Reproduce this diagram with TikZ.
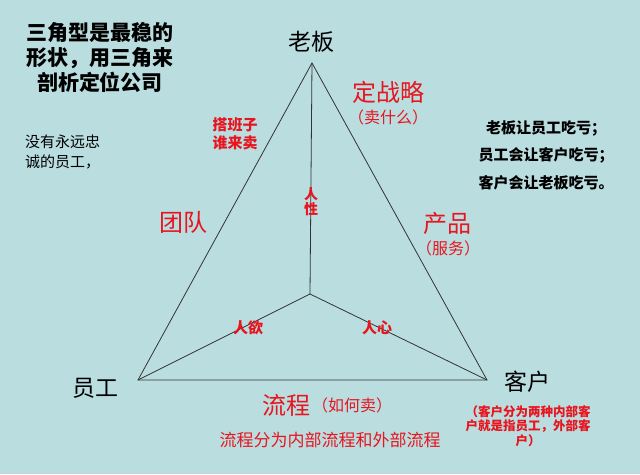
\documentclass[tikz,border=0pt]{standalone}
\usepackage{fontspec}
\newfontfamily\cjk{Noto Sans CJK SC}
\definecolor{bgblue}{RGB}{186,221,224}
\definecolor{lblred}{RGB}{232,20,30}
\tikzset{
  lbl/.style={inner sep=0pt, align=center, font=\cjk},
  redlbl/.style={lbl, text=lblred},
  edge/.style={black!80, line width=0.8pt}
}
\newcommand{\fs}[2]{\fontsize{#1}{#2}\selectfont}

\begin{document}
\begin{tikzpicture}[x=1pt, y=-1pt]
  % background
  \fill[bgblue] (0,0) rectangle (640,474);
  \useasboundingbox (0,0) rectangle (640,474);
  % triangle corners and centre
  \coordinate (boss) at (312,63);
  \coordinate (staff) at (138,380);
  \coordinate (client) at (487,380);
  \coordinate (mid) at (310,294);
  \draw[edge] (boss) -- (staff) -- (client) -- cycle;
  \draw[edge] (mid) -- (boss);
  \draw[edge] (mid) -- (staff);
  \draw[edge] (mid) -- (client);
  % corner labels
  \node[lbl, font=\cjk\fs{23}{26}] (bossname) at (311,42) {老板};
  \node[lbl, font=\cjk\fs{23}{26}] (staffname) at (95,388) {员工};
  \node[lbl, font=\cjk\fs{23}{26}] (clientname) at (527,382) {客户};
  % title and notes
  \node[lbl, font=\cjk\bfseries\fs{21}{25}] (title) at (100,57) {三角型是最稳的\\形状，用三角来\\剖析定位公司};
  \node[lbl, font=\cjk\fs{15}{20}, align=left, anchor=west] (loyal) at (25,152) {没有永远忠\\诚的员工，};
  \node[lbl, font=\cjk\bfseries\fs{15}{27.5}] (loss) at (546,155) {老板让员工吃亏；\\员工会让客户吃亏；\\客户会让老板吃亏。};
  % edge labels
  \node[redlbl, font=\cjk\fs{24}{28}] (strategy) at (388,92) {定战略};
  \node[redlbl, font=\cjk\fs{16}{20}] (sellwhat) at (388,117) {（卖什么）};
  \node[redlbl, font=\cjk\bfseries\fs{15}{18}] (team2) at (235,134) {搭班子\\谁来卖};
  \node[redlbl, font=\cjk\fs{24}{28}] (team) at (183,222) {团队};
  \node[redlbl, font=\cjk\fs{24}{28}] (product) at (447,223) {产品};
  \node[redlbl, font=\cjk\fs{16}{20}] (service) at (448,248) {（服务）};
  \node[redlbl, font=\cjk\bfseries\fs{14}{15}] (nature) at (311,202) {人\\性};
  \node[redlbl, font=\cjk\bfseries\fs{15}{18}] (desire) at (248,328) {人欲};
  \node[redlbl, font=\cjk\bfseries\fs{15}{18}] (heart) at (377,328) {人心};
  \node[redlbl, font=\cjk\fs{24}{28}] (process) at (286,405) {流程};
  \node[redlbl, font=\cjk\fs{16}{20}, anchor=west] (sellhow) at (312,405) {（如何卖）};
  \node[redlbl, font=\cjk\fs{17}{20}] (processnote) at (330,440) {流程分为内部流程和外部流程};
  \node[redlbl, font=\cjk\bfseries\fs{12.5}{14.5}] (clientnote) at (528,426) {（客户分为两种内部客\\户就是指员工，外部客\\户）};
\end{tikzpicture}
\end{document}
